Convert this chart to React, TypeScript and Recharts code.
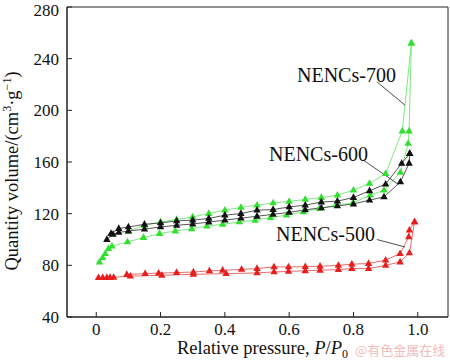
import { LineChart, Line, XAxis, YAxis, ReferenceArea, ReferenceLine } from "recharts";

// relative pressure (P/P0) and quantity adsorbed (cm3/g)
const P700_ADS = [0.01, 0.02, 0.028, 0.038, 0.049, 0.097, 0.147, 0.197, 0.246, 0.297, 0.344, 0.393, 0.445, 0.494, 0.542, 0.592, 0.644, 0.694, 0.746, 0.798, 0.852, 0.895, 0.946, 0.97, 0.973, 0.98];
const V700_ADS = [82.6, 86, 89, 93, 94.8, 98.1, 101.5, 104.6, 106.6, 108.3, 110.3, 111.8, 113.6, 114.9, 117, 118.8, 121.5, 124, 126.6, 128.3, 134.3, 138.2, 152, 174.4, 184, 252];
const P700_DES = [0.98, 0.952, 0.9, 0.85, 0.8, 0.75, 0.7, 0.65, 0.6, 0.55, 0.5, 0.45, 0.4, 0.35, 0.3, 0.25, 0.2, 0.15, 0.1];
const V700_DES = [252, 184, 151, 143.4, 138.2, 134.3, 132.5, 131, 129.5, 128.3, 126.6, 124.8, 122.7, 120.1, 117.5, 115.5, 113.6, 111, 106.5];

const P600_ADS = [0.033, 0.052, 0.07, 0.1, 0.15, 0.2, 0.25, 0.3, 0.35, 0.4, 0.45, 0.5, 0.55, 0.6, 0.65, 0.7, 0.75, 0.8, 0.85, 0.895, 0.946, 0.973, 0.975];
const V600_ADS = [100, 104, 105.5, 106.5, 108, 109.7, 111, 112, 113.5, 115, 116.5, 118, 119.5, 121, 123, 124.5, 126, 127.5, 130.5, 133, 144.6, 159, 166.6];
const P600_DES = [0.975, 0.95, 0.9, 0.85, 0.8, 0.75, 0.7, 0.65, 0.6, 0.55, 0.5, 0.45, 0.4, 0.35, 0.3, 0.25, 0.2, 0.15, 0.1, 0.07, 0.046];
const V600_DES = [166.6, 158.9, 142.9, 137.7, 132.5, 129.7, 129, 126.6, 125.2, 123.2, 122.7, 120.1, 118.8, 116.3, 115, 114.4, 112.8, 111.8, 109.7, 108.5, 104.6];

const P500_ADS = [0.007, 0.02, 0.033, 0.043, 0.054, 0.106, 0.204, 0.302, 0.404, 0.5, 0.553, 0.598, 0.65, 0.696, 0.753, 0.795, 0.847, 0.9, 0.945, 0.974, 0.99];
const V500_ADS = [70.5, 70.5, 70.6, 70.6, 70.7, 71.6, 72.3, 73, 73.6, 74.1, 74.9, 75.3, 75.8, 76.2, 76.7, 77.5, 77.5, 80, 82.6, 89.6, 113.6];
const P500_DES = [0.99, 0.974, 0.972, 0.945, 0.9, 0.847, 0.795, 0.753, 0.696, 0.65, 0.598, 0.553, 0.5, 0.452, 0.393, 0.352, 0.302, 0.25, 0.194, 0.152, 0.095];
const V500_DES = [113.6, 107.2, 102, 89.1, 84, 81.4, 80.9, 80, 79.3, 79, 78.8, 78.8, 77.5, 76.8, 76.2, 75.7, 74.8, 74.4, 74, 73.6, 72.9];

const X_TICKS = [0, 0.2, 0.4, 0.6, 0.8, 1.0];
const Y_TICKS = [40, 80, 120, 160, 200, 240, 280];

const GREEN = "#2fe02f";
const GREEN_LINE = "#6fe86f";
const BLACK = "#111111";
const BLACK_LINE = "#444444";
const RED = "#e61e1e";
const RED_LINE = "#e85a5a";

const FONT = "Liberation Serif, DejaVu Serif, serif";

const zip = (p: number[], v: number[]) => p.map((x, i) => ({ p: x, v: v[i] }));

const triangle = (color: string) => (props: any) => {
  const { cx, cy, index } = props;
  if (cx == null || cy == null) return <g key={index} />;
  return (
    <path
      key={index}
      d={`M${cx},${cy - 4.2}L${cx + 3.7},${cy + 2.4}L${cx - 3.7},${cy + 2.4}Z`}
      fill={color}
    />
  );
};

const series = [
  { id: "700a", data: zip(P700_ADS, V700_ADS), line: GREEN_LINE, fill: GREEN },
  { id: "700d", data: zip(P700_DES, V700_DES), line: GREEN_LINE, fill: GREEN },
  { id: "600a", data: zip(P600_ADS, V600_ADS), line: BLACK_LINE, fill: BLACK },
  { id: "600d", data: zip(P600_DES, V600_DES), line: BLACK_LINE, fill: BLACK },
  { id: "500a", data: zip(P500_ADS, V500_ADS), line: RED_LINE, fill: RED },
  { id: "500d", data: zip(P500_DES, V500_DES), line: RED_LINE, fill: RED },
];

const X_MIN = -0.091;
const X_MAX = 1.094;

const textStyle = { fontFamily: FONT };

export default function App() {
  return (
    <div style={{ position: "absolute", left: 0, top: 0, width: 450, height: 361, background: "#fff", fontFamily: FONT }}>
      <LineChart width={450} height={361} margin={{ top: 7, right: 2, bottom: 0, left: 0 }} style={textStyle}>
        <XAxis
          dataKey="p"
          type="number"
          domain={[X_MIN, X_MAX]}
          ticks={X_TICKS}
          allowDataOverflow
          height={44}
          tickSize={-5}
          tickMargin={11}
          tickFormatter={(t: number) => (t === 0 ? "0" : t.toFixed(1))}
          tick={{ fill: "#111", fontSize: 17, style: textStyle }}
          stroke="#222"
        />
        <YAxis
          type="number"
          domain={[40, 280]}
          ticks={Y_TICKS}
          width={67}
          tickSize={-5}
          tickMargin={13}
          tick={{ fill: "#111", fontSize: 17, style: textStyle }}
          stroke="#222"
        />
        <ReferenceArea x1={X_MIN} x2={X_MAX} y1={40} y2={280} fill="none" stroke="#222" strokeWidth={1} />
        {series.map((s) => (
          <Line
            key={s.id}
            data={s.data}
            dataKey="v"
            type="linear"
            stroke={s.line}
            strokeWidth={0.9}
            dot={triangle(s.fill)}
            activeDot={false}
            isAnimationActive={false}
          />
        ))}
        <ReferenceLine segment={[{ x: 0.8726, y: 222.1 }, { x: 0.9605, y: 204 }]} stroke="#222" strokeWidth={0.8} ifOverflow="visible" />
        <ReferenceLine segment={[{ x: 0.831, y: 161.4 }, { x: 0.939, y: 142.8 }]} stroke="#222" strokeWidth={0.8} ifOverflow="visible" />
        <ReferenceLine segment={[{ x: 0.8726, y: 100 }, { x: 0.9605, y: 94.2 }]} stroke="#222" strokeWidth={0.8} ifOverflow="visible" />
      </LineChart>
      <svg
        width={450}
        height={361}
        style={{ position: "absolute", left: 0, top: 0, pointerEvents: "none", fontFamily: FONT }}
      >
        <text transform="translate(17.5,171) rotate(-90)" textAnchor="middle" fontSize={18.5} fill="#111" style={textStyle}>
          Quantity volume/(cm
          <tspan dy={-7} fontSize={12}>3</tspan>
          <tspan dy={7}>·g</tspan>
          <tspan dy={-7} fontSize={12}>−1</tspan>
          <tspan dy={7}>)</tspan>
        </text>
        <text x={177} y={354} fontSize={18.5} fill="#111" style={textStyle}>
          Relative pressure, <tspan fontStyle="italic">P</tspan>/<tspan fontStyle="italic">P</tspan>
          <tspan dy={3.5} fontSize={12}>0</tspan>
        </text>
        <text x={297} y={82} fontSize={20} fill="#111" style={textStyle}>NENCs-700</text>
        <text x={269} y={161} fontSize={20} fill="#111" style={textStyle}>NENCs-600</text>
        <text x={276} y={240.7} fontSize={20} fill="#111" style={textStyle}>NENCs-500</text>
        <text x={355} y={355} fontSize={13} fill="#f2bcbc" style={{ fontFamily: "Noto Sans CJK SC, sans-serif" }}>@有色金属在线</text>
      </svg>
    </div>
  );
}
